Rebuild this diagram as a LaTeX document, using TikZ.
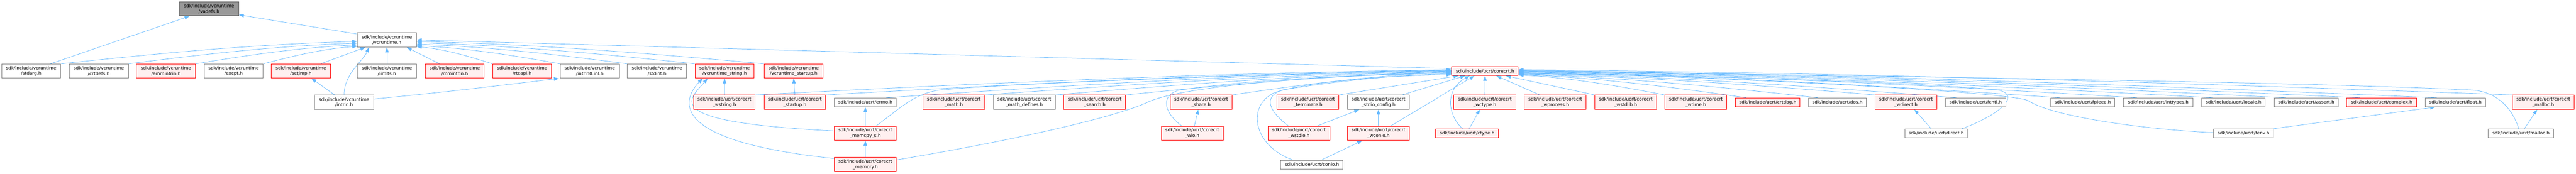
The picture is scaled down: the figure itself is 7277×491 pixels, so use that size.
\documentclass[tikz,border=0pt]{standalone}
\usepackage{fontspec}
\setmainfont{DejaVu Sans}
\usetikzlibrary{arrows.meta,calc}
\pgfdeclarelayer{bg}
\pgfsetlayers{bg,main}
\definecolor{edgec}{HTML}{63B8FF}
\definecolor{rfill}{HTML}{FFF0F0}
\definecolor{rline}{HTML}{FF0000}
\definecolor{wline}{HTML}{808080}
\definecolor{gfill}{HTML}{999999}
\definecolor{gline}{HTML}{666666}
\tikzset{
  base/.style={inner sep=0pt, align=center, font=\fontsize{9.6}{11.8}\selectfont, line width=1.1pt},
  two/.style={minimum height=40*0.75pt},
  one/.style={minimum height=25*0.75pt},
  wd/.style={minimum width=#1*0.75pt},
  nw/.style={base, draw=wline, fill=white},
  nr/.style={base, draw=rline, fill=rfill},
  ng/.style={base, draw=gline, fill=gfill},
  lnk/.style={draw=edgec, line width=0.8pt, -{Triangle[length=10.5pt,width=7.5pt]}},
  lc/.style={to path={let \p1=(\tikztostart), \p2=(\tikztotarget) in
     .. controls ({\x1+0.3*(\x2-\x1)},{\y1+0.42*(\y2-\y1)}) and ({\x1+0.62*(\x2-\x1)},{\y1+0.85*(\y2-\y1)}) .. (\p2) \tikztonodes}}
}
\begin{document}
\begin{tikzpicture}[x=0.75pt,y=-0.75pt]
\useasboundingbox (0,0) rectangle (7277,491);
% ---- nodes
\node[ng,wd=167,two] (vadefs) at (590.5,25) {sdk/include/vcruntime\\/vadefs.h};
\node[nw,wd=167,two] (vcruntime) at (1093,113) {sdk/include/vcruntime\\/vcruntime.h};
\node[nw,wd=167,two] (stdarg) at (88,201) {sdk/include/vcruntime\\/stdarg.h};
\node[nw,wd=167,two] (crtdefs) at (279,201) {sdk/include/vcruntime\\/crtdefs.h};
\node[nr,wd=167,two] (emmintrin) at (469,201) {sdk/include/vcruntime\\/emmintrin.h};
\node[nw,wd=167,two] (excpt) at (660,201) {sdk/include/vcruntime\\/excpt.h};
\node[nr,wd=167,two] (setjmp) at (850,201) {sdk/include/vcruntime\\/setjmp.h};
\node[nw,wd=167,two] (limits) at (1093,201) {sdk/include/vcruntime\\/limits.h};
\node[nr,wd=167,two] (mmintrin) at (1284.5,201) {sdk/include/vcruntime\\/mmintrin.h};
\node[nr,wd=167,two] (rtcapi) at (1475,201) {sdk/include/vcruntime\\/rtcapi.h};
\node[nw,wd=167,two] (intrin0) at (1666,201) {sdk/include/vcruntime\\/intrin0.inl.h};
\node[nw,wd=167,two] (stdint) at (1856,201) {sdk/include/vcruntime\\/stdint.h};
\node[nr,wd=167,two] (vstring) at (2047,201) {sdk/include/vcruntime\\/vcruntime\_string.h};
\node[nr,wd=167,two] (vstartup) at (2242,201) {sdk/include/vcruntime\\/vcruntime\_startup.h};
\node[nr,wd=188,one] (corecrt) at (4195,201) {sdk/include/ucrt/corecrt.h};
\node[nw,wd=167,two] (intrin) at (972,289) {sdk/include/vcruntime\\/intrin.h};
\node[nr,wd=174,two] (wstring) at (2046.5,289) {sdk/include/ucrt/corecrt\\\_wstring.h};
\node[nr,wd=174,two] (cstartup) at (2245.5,289) {sdk/include/ucrt/corecrt\\\_startup.h};
\node[nw,wd=175,one] (errno) at (2444.5,289.5) {sdk/include/ucrt/errno.h};
\node[nr,wd=175,two] (cmath) at (2694.5,289) {sdk/include/ucrt/corecrt\\\_math.h};
\node[nw,wd=175,two] (mathdef) at (2893.5,289) {sdk/include/ucrt/corecrt\\\_math\_defines.h};
\node[nr,wd=175,two] (search) at (3092.5,289) {sdk/include/ucrt/corecrt\\\_search.h};
\node[nr,wd=175,two] (share) at (3393,289) {sdk/include/ucrt/corecrt\\\_share.h};
\node[nr,wd=175,two] (terminate) at (3695,289) {sdk/include/ucrt/corecrt\\\_terminate.h};
\node[nw,wd=175,two] (stdioconf) at (3894,289) {sdk/include/ucrt/corecrt\\\_stdio\_config.h};
\node[nr,wd=175,two] (wctype) at (4194.5,289) {sdk/include/ucrt/corecrt\\\_wctype.h};
\node[nr,wd=175,two] (wprocess) at (4393.5,289) {sdk/include/ucrt/corecrt\\\_wprocess.h};
\node[nr,wd=175,two] (wstdlib) at (4592.5,289) {sdk/include/ucrt/corecrt\\\_wstdlib.h};
\node[nr,wd=175,two] (wtime) at (4790.5,289) {sdk/include/ucrt/corecrt\\\_wtime.h};
\node[nr,wd=182,one] (crtdbg) at (4994,289.5) {sdk/include/ucrt/crtdbg.h};
\node[nw,wd=163,one] (dos) at (5190.5,289.5) {sdk/include/ucrt/dos.h};
\node[nr,wd=175,two] (wdirect) at (5384,289) {sdk/include/ucrt/corecrt\\\_wdirect.h};
\node[nw,wd=170,one] (fcntl) at (5581,289.5) {sdk/include/ucrt/fcntl.h};
\node[nw,wd=181,one] (fpieee) at (5883.5,289.5) {sdk/include/ucrt/fpieee.h};
\node[nw,wd=196,one] (inttypes) at (6097,289.5) {sdk/include/ucrt/inttypes.h};
\node[nw,wd=179,one] (locale) at (6309.5,289.5) {sdk/include/ucrt/locale.h};
\node[nw,wd=180,one] (assert) at (6515,289.5) {sdk/include/ucrt/assert.h};
\node[nr,wd=198,one] (complex) at (6728,289.5) {sdk/include/ucrt/complex.h};
\node[nw,wd=170,one] (float) at (6936,289.5) {sdk/include/ucrt/float.h};
\node[nr,wd=175,two] (cmalloc) at (7184.5,289) {sdk/include/ucrt/corecrt\\\_malloc.h};
\node[nr,wd=175,two] (memcpy) at (2444.5,377) {sdk/include/ucrt/corecrt\\\_memcpy\_s.h};
\node[nr,wd=175,two] (wio) at (3368,377) {sdk/include/ucrt/corecrt\\\_wio.h};
\node[nr,wd=175,two] (wstdio) at (3669.5,377) {sdk/include/ucrt/corecrt\\\_wstdio.h};
\node[nr,wd=175,two] (wconio) at (3894,377) {sdk/include/ucrt/corecrt\\\_wconio.h};
\node[nr,wd=177,one] (ctype) at (4144.5,377) {sdk/include/ucrt/ctype.h};
\node[nw,wd=177,one] (direct) at (5469.5,377) {sdk/include/ucrt/direct.h};
\node[nw,wd=169,one] (fenv) at (6337.5,377) {sdk/include/ucrt/fenv.h};
\node[nw,wd=185,one] (malloc) at (7121.5,377) {sdk/include/ucrt/malloc.h};
\node[nr,wd=175,two] (memory) at (2444.5,465) {sdk/include/ucrt/corecrt\\\_memory.h};
\node[nw,wd=176,one] (conio) at (3706,465.5) {sdk/include/ucrt/conio.h};
% ---- edges
\begin{pgfonlayer}{bg}
% anchor points on vcruntime.h
\coordinate (vL1) at ($(vcruntime.west)+(0,4)$);
\coordinate (vL2) at ($(vcruntime.west)+(0,9)$);
\coordinate (vL3) at ($(vcruntime.west)+(0,14)$);
\coordinate (vL4) at ($(vcruntime.west)+(0,18)$);
\coordinate (vR1) at ($(vcruntime.east)+(0,0)$);
\coordinate (vR2) at ($(vcruntime.east)+(0,4)$);
\coordinate (vR3) at ($(vcruntime.east)+(0,8)$);
\coordinate (vR4) at ($(vcruntime.east)+(0,12)$);
\coordinate (vR5) at ($(vcruntime.east)+(0,16)$);
\coordinate (vR6) at ($(vcruntime.east)+(0,19)$);
% anchor points on corecrt.h
\coordinate (ccV) at ($(corecrt.west)+(0,-7)$);
\coordinate (ccL1) at ($(corecrt.west)+(0,-4)$);
\coordinate (ccL2) at ($(corecrt.west)+(0,-3)$);
\coordinate (ccL3) at ($(corecrt.west)+(0,-2)$);
\coordinate (ccL4) at ($(corecrt.west)+(0,-1)$);
\coordinate (ccL5) at ($(corecrt.west)+(0,0)$);
\coordinate (ccL6) at ($(corecrt.west)+(0,1)$);
\coordinate (ccL7) at ($(corecrt.west)+(0,2)$);
\coordinate (ccL8) at ($(corecrt.west)+(0,3)$);
\coordinate (ccL9) at ($(corecrt.west)+(0,5)$);
\coordinate (ccL10) at ($(corecrt.west)+(0,6)$);
\coordinate (ccL11) at ($(corecrt.west)+(0,8)$);
\coordinate (ccL12) at ($(corecrt.west)+(0,10)$);
\coordinate (ccR1) at ($(corecrt.east)+(0,-4)$);
\coordinate (ccR2) at ($(corecrt.east)+(0,-3)$);
\coordinate (ccR3) at ($(corecrt.east)+(0,-2)$);
\coordinate (ccR4) at ($(corecrt.east)+(0,-1)$);
\coordinate (ccR5) at ($(corecrt.east)+(0,0)$);
\coordinate (ccR6) at ($(corecrt.east)+(0,1)$);
\coordinate (ccR7) at ($(corecrt.east)+(0,2)$);
\coordinate (ccR8) at ($(corecrt.east)+(0,3)$);
\coordinate (ccR9) at ($(corecrt.east)+(0,5)$);
\coordinate (ccR10) at ($(corecrt.east)+(0,6)$);
\coordinate (ccR11) at ($(corecrt.east)+(0,7)$);
\coordinate (ccR12) at ($(corecrt.east)+(0,8)$);
\coordinate (ccR13) at ($(corecrt.east)+(0,9)$);
\coordinate (ccR14) at ($(corecrt.east)+(0,10)$);
\coordinate (ccR15) at ($(corecrt.east)+(0,11)$);
\coordinate (ccB1) at ($(corecrt.south)+(-75,0)$);
\coordinate (ccB2) at ($(corecrt.south)+(-56,0)$);
\coordinate (ccB3) at ($(corecrt.south)+(-43,0)$);
\coordinate (ccB4) at ($(corecrt.south)+(-30,0)$);
\coordinate (ccB5) at ($(corecrt.south)+(32,0)$);
\coordinate (ccB6) at ($(corecrt.south)+(59,0)$);
% to vadefs.h
\draw[lnk] ($(stdarg.north west)+(139,0)$) -- ($(vadefs.south west)+(29,0)$);
\draw[lnk] ($(vcruntime.north west)+(0,4)$) -- ($(vadefs.east)+(0,17)$);
% to vcruntime.h
\draw[lnk] (stdarg.north east) to[lc] (vL1);
\draw[lnk] (crtdefs.north east) to[lc] (vL2);
\draw[lnk] (emmintrin.north east) to[lc] (vL3);
\draw[lnk] (excpt.north east) to[lc] (vL4);
\draw[lnk] ($(setjmp.north east)+(-28,0)$) -- ($(vcruntime.south west)+(23,0)$);
\draw[lnk] (intrin.north) .. controls +(0,-60) and +(-18,40) .. ($(vcruntime.south west)+(34,0)$);
\draw[lnk] (limits.north) -- (vcruntime.south);
\draw[lnk] ($(mmintrin.north west)+(41,0)$) -- ($(vcruntime.south east)+(-28,0)$);
\draw[lnk] (rtcapi.north west) to[lc] (vR6);
\draw[lnk] (intrin0.north west) to[lc] (vR5);
\draw[lnk] (stdint.north west) to[lc] (vR4);
\draw[lnk] (vstring.north west) to[lc] (vR3);
\draw[lnk] (vstartup.north west) to[lc] (vR2);
\draw[lnk] (ccV) -- (vR1);
% intrin.h
\draw[lnk] ($(intrin.north)+(-27,0)$) -- ($(setjmp.south)+(30,0)$);
\draw[lnk] ($(intrin.east)+(0,-9)$) .. controls +(200,-20) and +(-300,36) .. ($(intrin0.south west)+(-3,0)$);
% vcruntime_string / startup
\draw[lnk] (wstring.north) -- (vstring.south);
\draw[lnk] (cstartup.north) -- (vstartup.south);
\draw[lnk] ($(memcpy.west)+(0,-7)$) .. controls (1850,345) and (1950,280) .. ($(vstring.south west)+(36,0)$);
\draw[lnk] ($(memory.west)+(0,-17)$) .. controls (1900,400) and (1920,290) .. ($(vstring.south west)+(22,0)$);
% to corecrt.h from the left
\draw[lnk] (wstring.north east) to[lc] (ccL1);
\draw[lnk] (cstartup.north east) to[lc] (ccL2);
\draw[lnk] ($(errno.north east)+(-29,0)$) to[lc] (ccL3);
\draw[lnk] ($(memcpy.north east)+(-58,0)$) .. controls (2550,300) and (2580,268) .. (2650,255) .. controls (2900,232) and (3700,206) .. (ccL4);
\draw[lnk] (cmath.north east) to[lc] (ccL5);
\draw[lnk] (mathdef.north east) to[lc] (ccL6);
\draw[lnk] (search.north east) to[lc] (ccL7);
\draw[lnk] (share.north east) to[lc] (ccL8);
\draw[lnk] ($(memory.east)+(0,-13)$) .. controls (2900,390) and (3150,330) .. (3240,290) .. controls (3330,245) and (3700,214) .. (ccL9);
\draw[lnk] ($(wio.north west)+(59,0)$) .. controls (3290,320) and (3275,272) .. (3330,255) .. controls (3550,222) and (3900,209) .. (ccL10);
\draw[lnk] ($(wstdio.north west)+(59,0)$) .. controls (3585,315) and (3565,272) .. (3625,254) .. controls (3800,225) and (3980,210) .. (ccL11);
\draw[lnk] ($(conio.north west)+(35,0)$) .. controls (3540,412) and (3520,300) .. (3600,262) .. controls (3700,228) and (3950,213) .. (ccL12);
% lower level
\draw[lnk] (memcpy.north) -- (errno.south);
\draw[lnk] (memory.north) -- (memcpy.south);
\draw[lnk] ($(wio.north)+(6,0)$) -- ($(share.south)+(-8,0)$);
\draw[lnk] ($(wstdio.north east)+(-37,0)$) -- ($(stdioconf.south west)+(34,0)$);
\draw[lnk] ($(conio.north east)+(-62,0)$) -- ($(wconio.south west)+(42,0)$);
\draw[lnk] (wconio.north) -- (stdioconf.south);
% to corecrt.h from below
\draw[lnk] (terminate.north east) -- (ccB1);
\draw[lnk] ($(stdioconf.north east)+(-21,0)$) -- (ccB2);
\draw[lnk] ($(ctype.north west)+(76,0)$) .. controls (4085,320) and (4085,250) .. (ccB3);
\draw[lnk] ($(wconio.north east)+(-54,0)$) -- (ccB4);
\draw[lnk] ($(ctype.north west)+(95,0)$) -- ($(wctype.south)+(-14,0)$);
\draw[lnk] (wctype.north) -- (corecrt.south);
\draw[lnk] ($(wprocess.north west)+(44,0)$) -- (ccB5);
\draw[lnk] (wstdlib.north west) -- (ccB6);
% to corecrt.h from the right
\draw[lnk] (wtime.north west) to[lc] (ccR15);
\draw[lnk] ($(crtdbg.north west)+(31,0)$) to[lc] (ccR14);
\draw[lnk] ($(dos.north west)+(28,0)$) to[lc] (ccR13);
\draw[lnk] (wdirect.north west) to[lc] (ccR12);
\draw[lnk] ($(fcntl.north west)+(31,0)$) to[lc] (ccR10);
\draw[lnk] ($(direct.north east)+(-16,0)$) .. controls (5660,320) and (5710,265) .. (5640,254) .. controls (5400,230) and (4700,212) .. (ccR11);
\draw[lnk] ($(fenv.west)+(0,-2)$) .. controls (6050,365) and (5800,330) .. (5730,285) .. controls (5690,259) and (4800,214) .. (ccR9);
\draw[lnk] ($(fpieee.north west)+(28,0)$) to[lc] (ccR8);
\draw[lnk] ($(inttypes.north west)+(38,0)$) to[lc] (ccR7);
\draw[lnk] ($(locale.north west)+(32,0)$) to[lc] (ccR6);
\draw[lnk] ($(assert.north west)+(33,0)$) to[lc] (ccR5);
\draw[lnk] ($(complex.north west)+(39,0)$) to[lc] (ccR4);
\draw[lnk] ($(float.north west)+(33,0)$) to[lc] (ccR3);
\draw[lnk] (cmalloc.north west) to[lc] (ccR1);
\draw[lnk] ($(malloc.north west)+(87,0)$) .. controls (7095,300) and (7050,262) .. (6990,255) .. controls (6400,226) and (4800,211) .. (ccR2);
% others
\draw[lnk] ($(direct.north west)+(75,0)$) -- ($(wdirect.south)+(24,0)$);
\draw[lnk] (fenv.north east) -- ($(float.south west)+(29,0)$);
\draw[lnk] ($(malloc.north west)+(103,0)$) -- ($(cmalloc.south west)+(71,0)$);
\end{pgfonlayer}
\end{tikzpicture}
\end{document}
